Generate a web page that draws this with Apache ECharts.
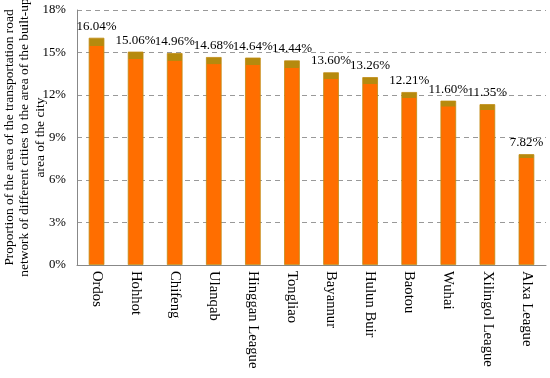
<!DOCTYPE html>
<html><head><meta charset="utf-8">
<script src="https://cdn.jsdelivr.net/npm/echarts@6/dist/echarts.min.js"></script>
<style>html,body{margin:0;padding:0;background:#fff}#c{width:550px;height:378px}</style>
</head><body><div id="c"></div>
<script>
const categories = ['Ordos','Hohhot','Chifeng','Ulanqab','Hinggan League','Tongliao','Bayannur','Hulun Buir','Baotou','Wuhai','Xilingol League','Alxa League'];
const values = [16.04, 15.06, 14.96, 14.68, 14.64, 14.44, 13.60, 13.26, 12.21, 11.60, 11.35, 7.82];
const yTicks = [0, 3, 6, 9, 12, 15, 18];
const yName = 'Proportion of the area of the transportation road\nnetwork of different cities to the area of the built-up\narea of the city';

const font = '"Liberation Serif", "Times New Roman", serif';
const chart = echarts.init(document.getElementById('c'));
chart.setOption({
  animation: false,
  textStyle: { fontFamily: font },
  grid: { left: 77, right: 4, top: 10, bottom: 113, containLabel: false, outerBoundsMode: 'none' },
  xAxis: {
    type: 'category',
    data: categories,
    axisLine: { lineStyle: { color: '#888', width: 1 } },
    axisTick: { show: false },
    axisLabel: { rotate: -90, color: '#000', fontSize: 14.7, fontFamily: font, margin: 6, interval: 0 }
  },
  yAxis: {
    type: 'value',
    min: yTicks[0], max: yTicks[yTicks.length - 1], interval: 3,
    name: yName,
    nameLocation: 'middle',
    nameRotate: 90,
    nameGap: 29,
    nameMoveOverlap: false,
    nameTextStyle: { color: '#000', fontSize: 13.4, fontFamily: font, lineHeight: 15.5, align: 'center' },
    axisLine: { show: true, lineStyle: { color: '#888', width: 1 } },
    axisTick: { show: false },
    axisLabel: { color: '#000', fontSize: 12.8, fontFamily: font, margin: 11, formatter: v => v + '%' },
    splitLine: { lineStyle: { color: '#999', type: [5, 4], width: 1 } }
  },
  series: [{
    type: 'bar',
    data: values,
    barWidth: '40%',
    itemStyle: {
      color: new echarts.graphic.LinearGradient(0, 0, 0, 1, [
        { offset: 0, color: '#B58A0E' },
        { offset: 0.035, color: '#B58A0E' },
        { offset: 0.036, color: '#FF6E00' },
        { offset: 1, color: '#FF6E00' }
      ]),
      borderColor: '#C08A10',
      borderWidth: 0.8
    },
    label: {
      show: true, position: 'top', distance: 5, color: '#000', fontSize: 13, fontFamily: font,
      formatter: p => p.value.toFixed(2) + '%'
    }
  }]
});
</script></body></html>
